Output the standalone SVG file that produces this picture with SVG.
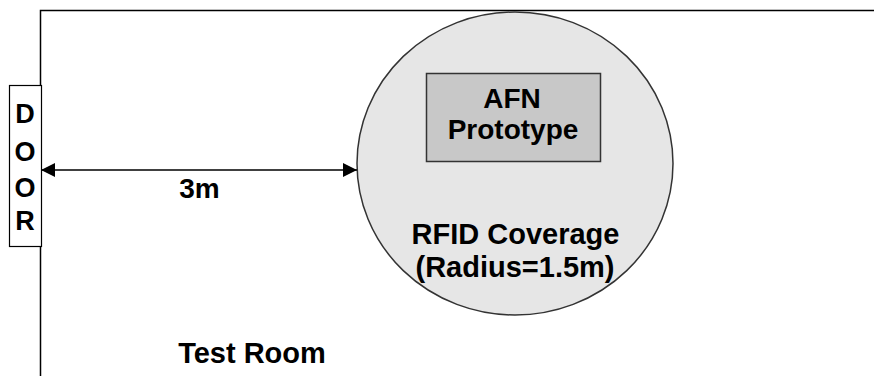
<svg xmlns="http://www.w3.org/2000/svg" width="874" height="376" viewBox="0 0 874 376">
<style>
text{font-family:"Liberation Sans",Arial,sans-serif;font-weight:bold;fill:#000;text-anchor:middle;}
.ln{stroke:#000;stroke-width:1.5;fill:none;}
</style>
<defs>
<marker id="ah" viewBox="0 0 10 10" refX="10" refY="5" markerWidth="14" markerHeight="14" markerUnits="userSpaceOnUse" orient="auto-start-reverse">
<path d="M0,0 L10,5 L0,10 z" fill="#000"/>
</marker>
</defs>
<rect width="874" height="376" fill="#fff"/>
<g id="room">
<path class="ln" d="M40.5,376 V10.5 H874"/>
<text x="252" y="363" font-size="29">Test Room</text>
</g>
<g id="coverage">
<ellipse cx="515" cy="163.5" rx="158" ry="151.5" fill="#e6e6e6" stroke="#333" stroke-width="1.5"/>
<text x="515.5" y="244" font-size="29">RFID Coverage</text>
<text x="515" y="277" font-size="29">(Radius=1.5m)</text>
</g>
<g id="afn">
<rect x="426.5" y="73.5" width="174" height="88" fill="#c8c8c8" stroke="#333" stroke-width="1.5"/>
<text x="512" y="108" font-size="28">AFN</text>
<text x="513" y="139" font-size="28">Prototype</text>
</g>
<g id="door">
<rect x="9.5" y="85.5" width="32" height="161" fill="#fff" stroke="#000" stroke-width="1.2"/>
<text x="25" y="123" font-size="27">D</text>
<text x="25" y="161" font-size="27">O</text>
<text x="25" y="197" font-size="27">O</text>
<text x="25" y="230" font-size="27">R</text>
</g>
<g id="connectors">
<line class="ln" x1="41" y1="170" x2="357" y2="170" marker-start="url(#ah)" marker-end="url(#ah)"/>
<text x="199.5" y="198" font-size="28">3m</text>
</g>
</svg>
